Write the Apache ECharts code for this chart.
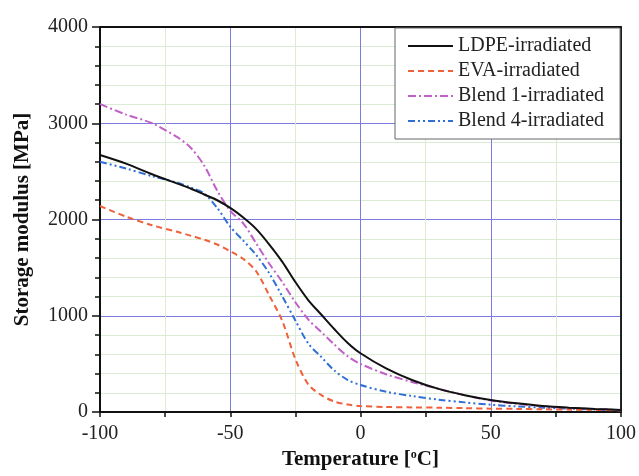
<!DOCTYPE html>
<html>
<head>
<meta charset="utf-8">
<script src="https://cdn.jsdelivr.net/npm/echarts@6/dist/echarts.min.js"></script>
<style>html,body{margin:0;padding:0;background:#fff;}#c{width:639px;height:476px;}</style>
</head>
<body>
<div id="c"></div>
<script>
const seriesNames = ['LDPE-irradiated', 'EVA-irradiated', 'Blend 1-irradiated', 'Blend 4-irradiated'];
const temps = [-100, -90, -80, -70, -65, -60, -55, -50, -45, -40, -35, -30, -25, -20, -15, -10, -5, 0, 10, 20, 30, 40, 50, 60, 70, 80, 90, 100];
const ldpe   = [2670, 2580, 2470, 2370, 2320, 2260, 2200, 2120, 2020, 1900, 1740, 1560, 1350, 1160, 1010, 860, 720, 610, 450, 330, 240, 175, 125, 90, 62, 45, 32, 22];
const eva    = [2140, 2030, 1940, 1870, 1830, 1790, 1740, 1670, 1590, 1460, 1210, 945, 550, 285, 175, 108, 78, 62, 52, 48, 45, 40, 35, 32, 28, 25, 22, 18];
const blend1 = [3200, 3090, 3000, 2850, 2740, 2560, 2300, 2090, 1960, 1750, 1540, 1350, 1140, 960, 830, 700, 580, 500, 390, 310, 240, 175, 120, 85, 60, 42, 30, 20];
const blend4 = [2600, 2530, 2450, 2380, 2330, 2270, 2120, 1925, 1780, 1630, 1440, 1200, 950, 710, 570, 430, 335, 280, 210, 165, 128, 100, 75, 58, 45, 35, 25, 18];
const xTicks = [-100, -50, 0, 50, 100];
const yTicks = [0, 1000, 2000, 3000, 4000];

const pairs = arr => temps.map((t, i) => [t, arr[i]]);
const font = 'Liberation Serif, Times New Roman, serif';
const styles = [
  {color: '#111111', type: 'solid'},
  {color: '#f0603a', type: [6, 4]},
  {color: '#c060c8', type: [8, 3, 2, 3]},
  {color: '#2f6fd6', type: [7, 3, 2, 3, 2, 3]}
];
const data = [ldpe, eva, blend1, blend4];
const frameAxis = {
  axisLine: {onZero: false, lineStyle: {color: '#111', width: 1.8}},
  axisTick: {show: false}, axisLabel: {show: false}, splitLine: {show: false}
};

const chart = echarts.init(document.getElementById('c'));
chart.setOption({
  animation: false,
  backgroundColor: '#ffffff',
  grid: {left: 100, right: 16, top: 27, bottom: 64},
  legend: {
    orient: 'vertical', left: 395, top: 28, padding: [8, 16, 8, 12], itemGap: 5,
    itemWidth: 45, itemHeight: 14,
    borderColor: '#666', borderWidth: 1, backgroundColor: '#fff',
    itemStyle: {opacity: 0},
    textStyle: {fontFamily: font, fontSize: 20, color: '#222'},
    data: seriesNames
  },
  xAxis: [{
    type: 'value', min: -100, max: 100, interval: 50,
    name: 'Temperature [{sup|o}C]', nameLocation: 'middle', nameGap: 37,
    nameTextStyle: {fontFamily: font, fontSize: 21, fontWeight: 'bold', color: '#111',
      rich: {sup: {fontFamily: font, fontSize: 12, fontWeight: 'bold', verticalAlign: 'top', padding: [0, 0, 10, 0], color: '#111'}}},
    axisLine: {onZero: false, lineStyle: {color: '#111', width: 2}},
    axisTick: {length: 5, lineStyle: {color: '#111', width: 1.5}},
    minorTick: {show: true, splitNumber: 2, length: 5, lineStyle: {color: '#111', width: 1.5}},
    splitLine: {show: true, lineStyle: {color: '#7b7be2', width: 1}},
    minorSplitLine: {show: true, lineStyle: {color: '#dcecd4', width: 1}},
    axisLabel: {fontFamily: font, fontSize: 20, color: '#222', margin: 12,
      formatter: v => xTicks.includes(v) ? String(v) : ''}
  }, Object.assign({type: 'value', min: -100, max: 100, position: 'top'}, frameAxis)],
  yAxis: [{
    type: 'value', min: 0, max: 4000, interval: 1000,
    name: 'Storage modulus [MPa]', nameLocation: 'middle', nameGap: 67,
    nameTextStyle: {fontFamily: font, fontSize: 21, fontWeight: 'bold', color: '#111'},
    axisLine: {onZero: false, lineStyle: {color: '#111', width: 2}},
    axisTick: {length: 8, lineStyle: {color: '#111', width: 1.5}},
    minorTick: {show: true, splitNumber: 5, length: 5, lineStyle: {color: '#111', width: 1.5}},
    splitLine: {show: true, lineStyle: {color: '#7b7be2', width: 1}},
    minorSplitLine: {show: true, lineStyle: {color: '#dcecd4', width: 1}},
    axisLabel: {fontFamily: font, fontSize: 20, color: '#222', margin: 12,
      formatter: v => yTicks.includes(v) ? String(v) : ''}
  }, Object.assign({type: 'value', min: 0, max: 4000, position: 'right'}, frameAxis)],
  series: seriesNames.map((n, i) => ({
    name: n, type: 'line', smooth: 0.3, symbol: 'none',
    data: pairs(data[i]),
    lineStyle: {color: styles[i].color, type: styles[i].type, width: 2},
    itemStyle: {color: styles[i].color},
    z: 4 - i
  }))
});
</script>
</body>
</html>
